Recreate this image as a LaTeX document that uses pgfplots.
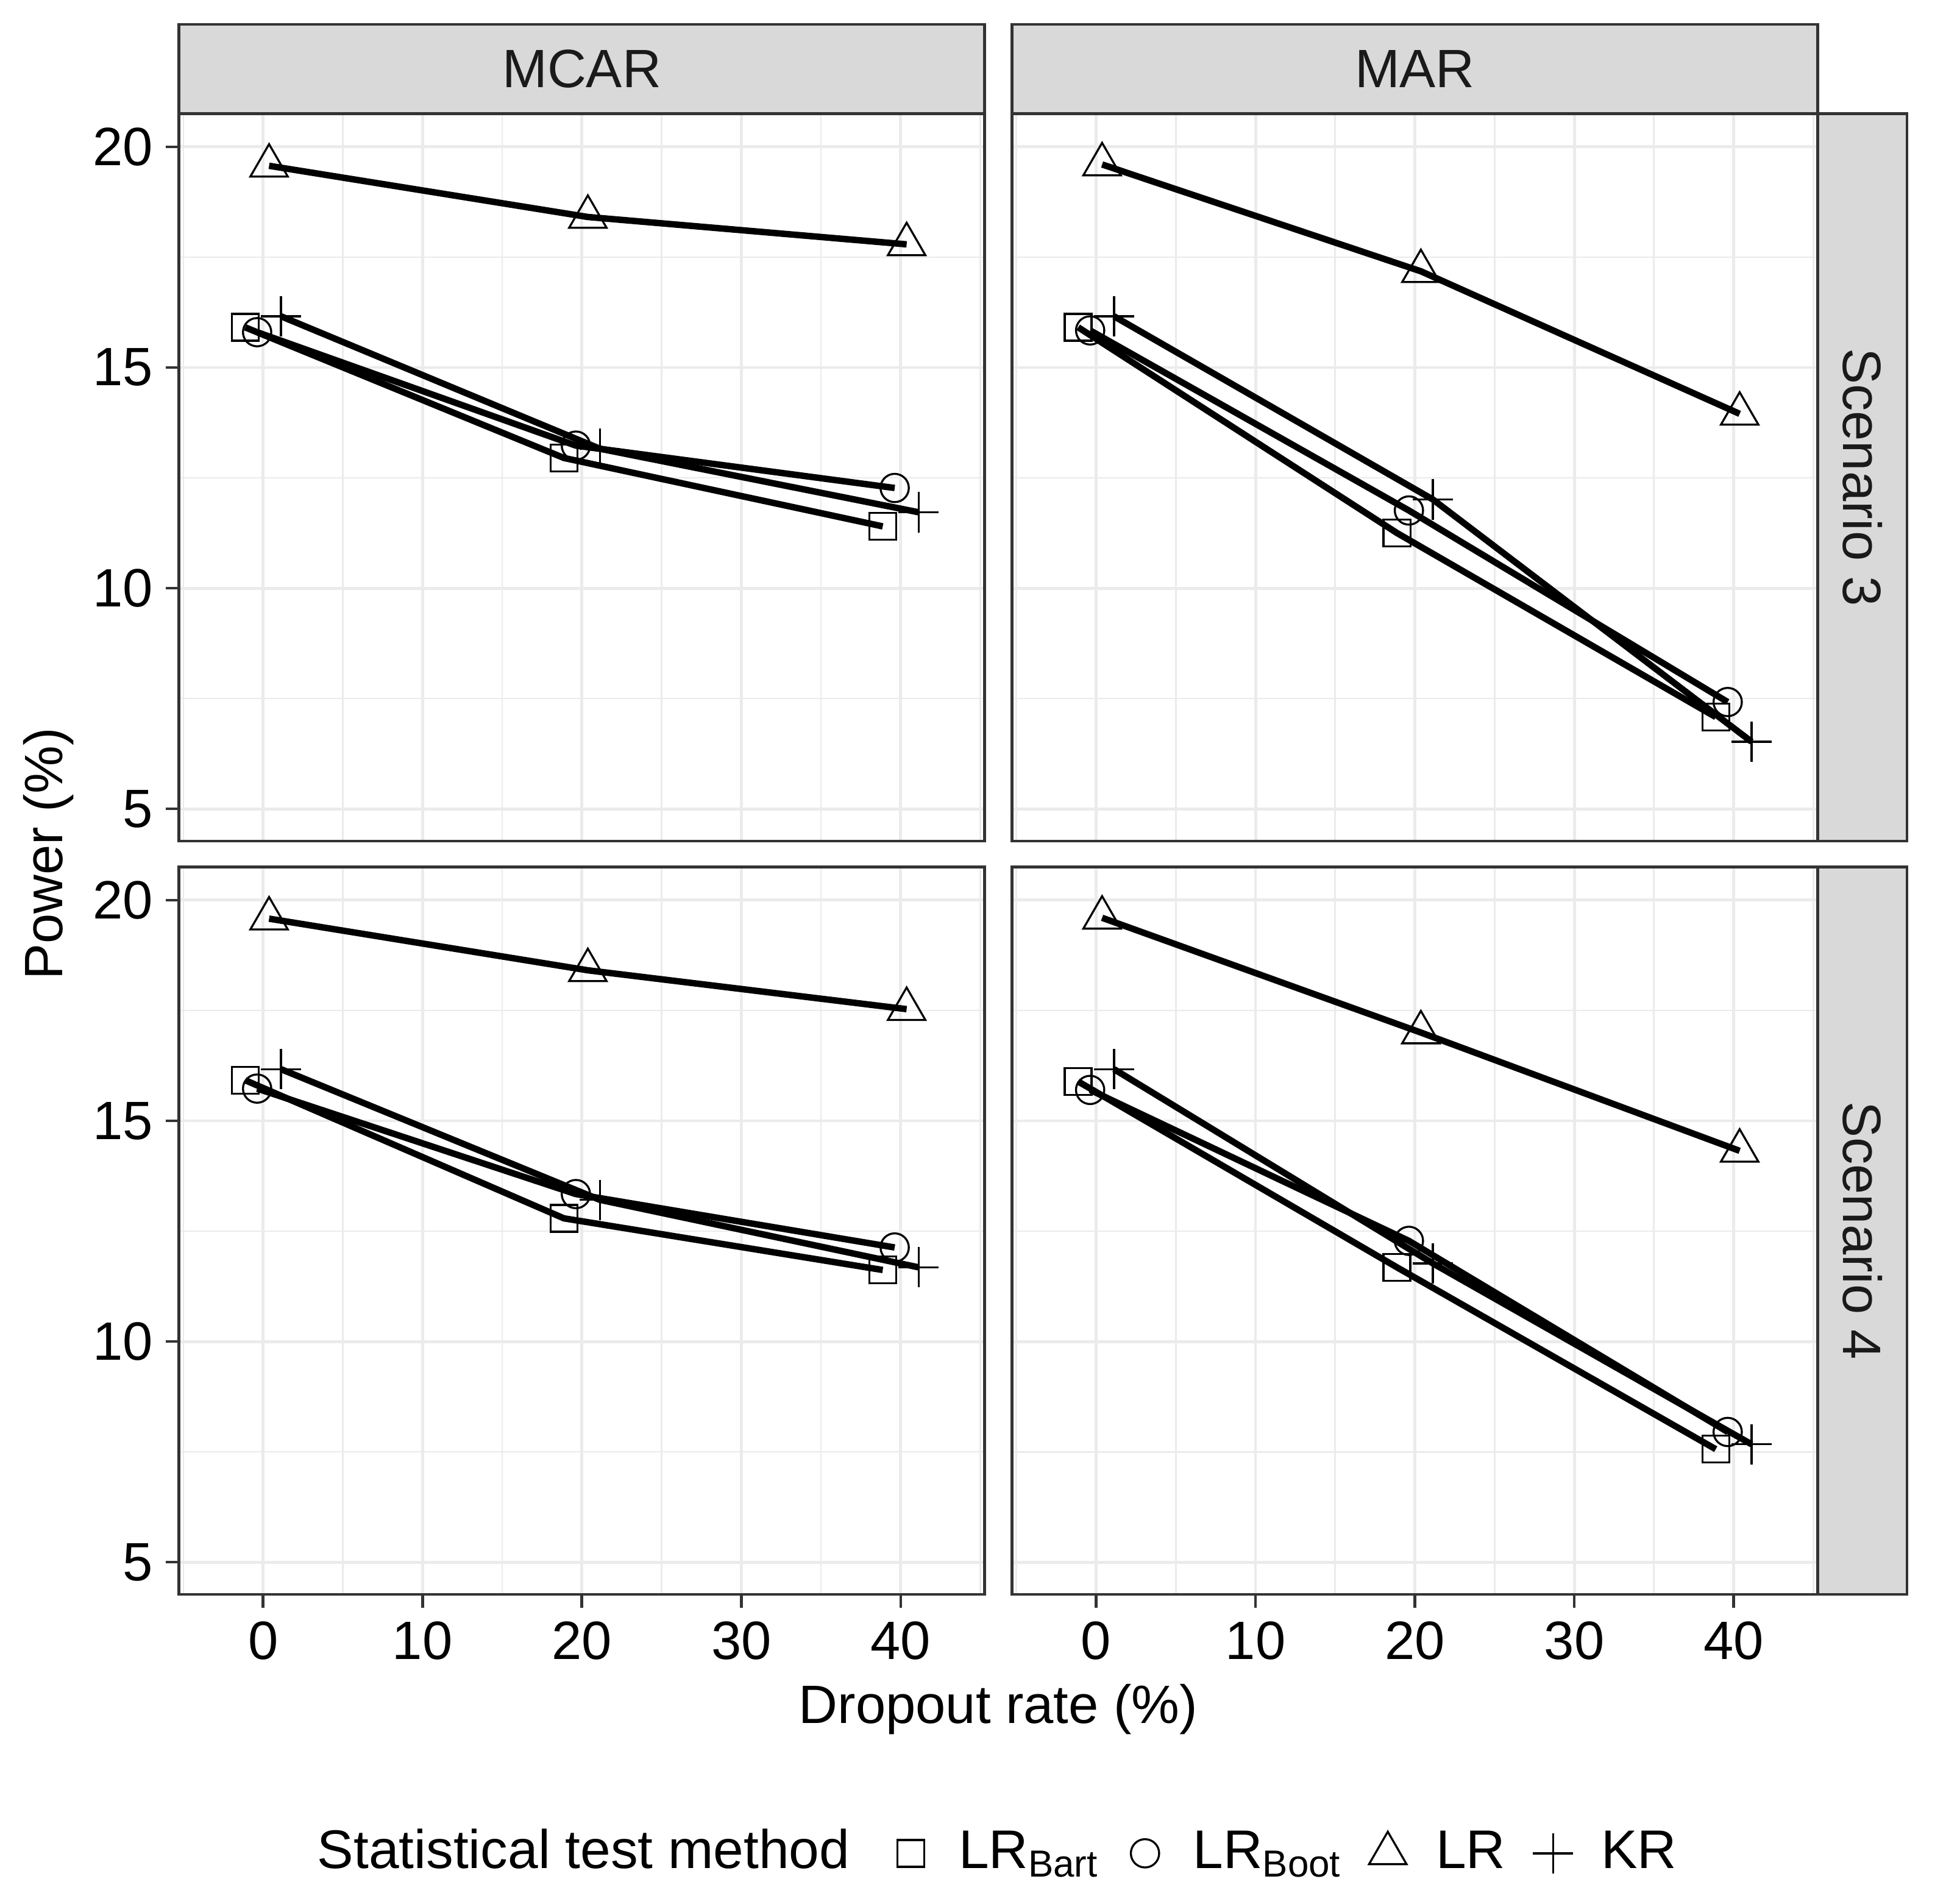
\documentclass[border=0pt]{standalone}
\usepackage{pgfplots}
\pgfplotsset{compat=1.18}
\usepackage{fontspec}
\setmainfont{Liberation Sans}
\definecolor{gray92}{HTML}{EBEBEB}
\definecolor{gray20}{HTML}{333333}
\definecolor{gray85}{HTML}{D9D9D9}
\definecolor{gray10}{HTML}{1A1A1A}
\newcommand{\fs}{\fontsize{12.6}{15}\selectfont}
\newcommand{\lfs}{\fontsize{12.7}{15}\selectfont}
\pgfplotsset{
  panel/.style={
    scale only axis, width=6.61cm, height=5.967cm, anchor=south west,
    xmin=-5.28, xmax=45.27, ymin=4.27, ymax=20.75,
    xtick={0,10,20,30,40}, ytick={5,10,15,20},
    minor xtick={-5,5,15,25,35,45}, minor ytick={7.5,12.5,17.5},
    grid=both,
    major grid style={color=gray92, line width=0.7pt},
    minor grid style={color=gray92, line width=0.4pt},
    axis line style={color=gray20, line width=0.65pt},
    tick style={color=gray20, line width=0.65pt},
    major tick length=0.11cm, minor tick length=0pt,
    tick align=outside, xtick pos=bottom, ytick pos=left,
    ticklabel style={font=\fs, text=black},
    xticklabel style={inner sep=0pt, anchor=north, yshift=-0.105cm},
    yticklabel style={inner sep=0pt, anchor=east, xshift=-0.095cm},
    /pgf/number format/assume math mode=true,
  },
  noxt/.style={xticklabels={}, xtick style={draw=none}},
  noyt/.style={yticklabels={}, ytick style={draw=none}},
  dline/.style={black, line width=1.5pt, line join=round, no markers, forget plot},
  sq/.style={only marks, black, mark=square, mark size=3.13pt, line width=0.47pt},
  ci/.style={only marks, black, mark=o, mark size=3.3pt, line width=0.47pt},
  tr/.style={only marks, black, mark=triangle, mark size=5.05pt, line width=0.47pt},
  pl/.style={only marks, black, mark=+, mark size=4.7pt, line width=0.47pt},
}
\begin{document}
\begin{tikzpicture}
\useasboundingbox (0,0) rectangle (15.965,15.615);
% ---------- MCAR, Scenario 3
\begin{axis}[panel, noxt, at={(1.468cm,8.715cm)}]
\addplot[dline] coordinates {(-1.125,15.91) (18.875,12.95) (38.875,11.40)};
\addplot[dline] coordinates {(-0.375,15.80) (19.625,13.23) (39.625,12.27)};
\addplot[dline] coordinates {(0.375,19.57) (20.375,18.41) (40.375,17.79)};
\addplot[dline] coordinates {(1.125,16.16) (21.125,13.16) (41.125,11.72)};
\addplot[sq] coordinates {(-1.125,15.91) (18.875,12.95) (38.875,11.40)};
\addplot[ci] coordinates {(-0.375,15.80) (19.625,13.23) (39.625,12.27)};
\addplot[tr] coordinates {(0.375,19.57) (20.375,18.41) (40.375,17.79)};
\addplot[pl] coordinates {(1.125,16.16) (21.125,13.16) (41.125,11.72)};
\end{axis}
% ---------- MAR, Scenario 3
\begin{axis}[panel, noxt, noyt, at={(8.302cm,8.715cm)}]
\addplot[dline] coordinates {(-1.125,15.91) (18.875,11.25) (38.875,7.08)};
\addplot[dline] coordinates {(-0.375,15.84) (19.625,11.76) (39.625,7.42)};
\addplot[dline] coordinates {(0.375,19.60) (20.375,17.18) (40.375,13.95)};
\addplot[dline] coordinates {(1.125,16.16) (21.125,12.01) (41.125,6.52)};
\addplot[sq] coordinates {(-1.125,15.91) (18.875,11.25) (38.875,7.08)};
\addplot[ci] coordinates {(-0.375,15.84) (19.625,11.76) (39.625,7.42)};
\addplot[tr] coordinates {(0.375,19.60) (20.375,17.18) (40.375,13.95)};
\addplot[pl] coordinates {(1.125,16.16) (21.125,12.01) (41.125,6.52)};
\end{axis}
% ---------- MCAR, Scenario 4
\begin{axis}[panel, at={(1.468cm,2.535cm)}]
\addplot[dline] coordinates {(-1.125,15.92) (18.875,12.79) (38.875,11.62)};
\addplot[dline] coordinates {(-0.375,15.73) (19.625,13.34) (39.625,12.13)};
\addplot[dline] coordinates {(0.375,19.58) (20.375,18.41) (40.375,17.53)};
\addplot[dline] coordinates {(1.125,16.17) (21.125,13.21) (41.125,11.68)};
\addplot[sq] coordinates {(-1.125,15.92) (18.875,12.79) (38.875,11.62)};
\addplot[ci] coordinates {(-0.375,15.73) (19.625,13.34) (39.625,12.13)};
\addplot[tr] coordinates {(0.375,19.58) (20.375,18.41) (40.375,17.53)};
\addplot[pl] coordinates {(1.125,16.17) (21.125,13.21) (41.125,11.68)};
\end{axis}
% ---------- MAR, Scenario 4 (carries the legend)
\begin{axis}[panel, noyt, at={(8.302cm,2.535cm)},
  legend columns=-1,
  legend style={at={(-0.863,-0.356)}, anchor=west, draw=none, fill=none,
    inner sep=0pt, font=\lfs, column sep=0pt,
    nodes={inner sep=0pt, text height=0.69em, text depth=0pt, anchor=center}},
  legend image code/.code={\path[draw=none, fill=none] (-0.39cm,-0.25cm) rectangle (0.395cm,0.25cm);
    \draw[#1] plot coordinates {(0cm,0cm)};}]
\addlegendimage{empty legend}
\addlegendentry{Statistical test method\rule{0.11cm}{0pt}}
\addplot[dline] coordinates {(-1.125,15.89) (18.875,11.68) (38.875,7.56)};
\addplot[dline] coordinates {(-0.375,15.70) (19.625,12.28) (39.625,7.95)};
\addplot[dline] coordinates {(0.375,19.60) (20.375,17.00) (40.375,14.32)};
\addplot[dline] coordinates {(1.125,16.17) (21.125,11.77) (41.125,7.67)};
\addplot[sq] coordinates {(-1.125,15.89) (18.875,11.68) (38.875,7.56)};
\addlegendentry{LR{\fontsize{8.8}{10}\selectfont\raisebox{-2.1pt}{Bart}}}
\addplot[ci] coordinates {(-0.375,15.70) (19.625,12.28) (39.625,7.95)};
\addlegendentry{LR{\fontsize{8.8}{10}\selectfont\raisebox{-2.1pt}{Boot}}}
\addplot[tr] coordinates {(0.375,19.60) (20.375,17.00) (40.375,14.32)};
\addlegendentry{LR}
\addplot[pl] coordinates {(1.125,16.17) (21.125,11.77) (41.125,7.67)};
\addlegendentry{KR}
\end{axis}
% ---------- facet strips
\draw[gray20, fill=gray85, line width=0.65pt] (1.468,14.682) rectangle (8.078,15.415);
\node[font=\fs, text=gray10] at (4.773,15.05) {MCAR};
\draw[gray20, fill=gray85, line width=0.65pt] (8.302,14.682) rectangle (14.912,15.415);
\node[font=\fs, text=gray10] at (11.607,15.05) {MAR};
\draw[gray20, fill=gray85, line width=0.65pt] (14.912,8.715) rectangle (15.645,14.682);
\node[font=\fs, text=gray10, rotate=-90] at (15.279,11.70) {Scenario 3};
\draw[gray20, fill=gray85, line width=0.65pt] (14.912,2.535) rectangle (15.645,8.502);
\node[font=\fs, text=gray10, rotate=-90] at (15.279,5.52) {Scenario 4};
% ---------- axis titles
\node[font=\fs, anchor=base] at (8.19,1.48) {Dropout rate (\%)};
\node[font=\fs, anchor=base, rotate=90] at (0.51,8.61) {Power (\%)};
\end{tikzpicture}
\end{document}
